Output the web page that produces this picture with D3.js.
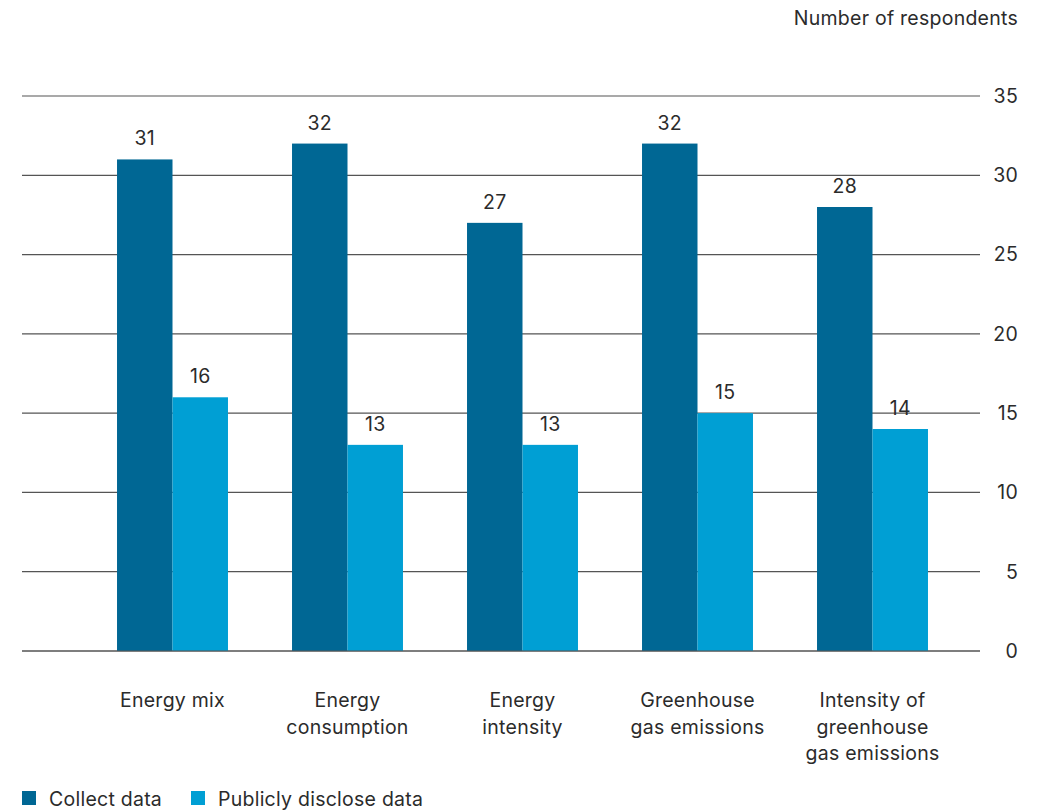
<!DOCTYPE html>
<html><head><meta charset="utf-8">
<script src="https://cdn.jsdelivr.net/npm/d3@7"></script>
<style>body{margin:0;background:#fff;} text{font-family:Inter, "Noto Sans", sans-serif;letter-spacing:0.25px;}</style>
</head><body>
<svg id="c" width="1051" height="811"></svg>
<script>
const categories = [["Energy mix"],["Energy","consumption"],["Energy","intensity"],["Greenhouse","gas emissions"],["Intensity of","greenhouse","gas emissions"]];
const seriesNames = ["Collect data","Publicly disclose data"];
const collectData = [31,32,27,32,28];
const discloseData = [16,13,13,15,14];
const yTicks = [0,5,10,15,20,25,30,35];
const colors = ["#006794","#009fd4"];
const textColor = "#2b2b2b";
const fs = 19.5;

const svg = d3.select("#c");
const x = d3.scaleBand().domain(d3.range(categories.length)).range([85,960]).paddingInner(0.366).paddingOuter(0.183);
const xs = d3.scaleBand().domain([0,1]).range([0,x.bandwidth()]);
const y = d3.scaleLinear().domain([0,35]).range([651,96]);

svg.append("g").selectAll("line").data(yTicks).join("line")
  .attr("x1",22).attr("x2",980).attr("y1",d=>y(d)).attr("y2",d=>y(d))
  .attr("stroke","#555").attr("stroke-width",1.2);
svg.append("g").selectAll("text").data(yTicks).join("text")
  .attr("x",1018).attr("y",d=>y(d)).attr("dy","0.35em").attr("text-anchor","end")
  .attr("font-size",fs).attr("fill",textColor).text(d=>d);
svg.append("text").attr("x",1018).attr("y",25).attr("text-anchor","end")
  .attr("font-size",fs).attr("fill",textColor).text("Number of respondents");

const series = [collectData, discloseData];
series.forEach((vals,si)=>{
  const g = svg.append("g");
  g.selectAll("rect").data(vals).join("rect")
    .attr("x",(d,i)=>x(i)+xs(si)).attr("width",xs.bandwidth())
    .attr("y",d=>y(d)).attr("height",d=>y(0)-y(d)).attr("fill",colors[si]);
  g.selectAll("text").data(vals).join("text")
    .attr("x",(d,i)=>x(i)+xs(si)+xs.bandwidth()/2).attr("y",d=>y(d)-14)
    .attr("text-anchor","middle").attr("font-size",fs).attr("fill",textColor).text(d=>d);
});
svg.append("line").attr("x1",22).attr("x2",980).attr("y1",y(0)).attr("y2",y(0)).attr("stroke","#555").attr("stroke-width",1.2);

const cl = svg.append("g").selectAll("text").data(categories).join("text")
  .attr("text-anchor","middle").attr("font-size",fs).attr("fill",textColor)
  .attr("x",(d,i)=>x(i)+x.bandwidth()/2).attr("y",707);
cl.selectAll("tspan").data(d=>d).join("tspan")
  .attr("x",function(){return this.parentNode.getAttribute("x");})
  .attr("dy",(d,i)=>i===0?0:26.5).text(d=>d);

const legX = [22,191];
const lg = svg.append("g").selectAll("g").data(seriesNames).join("g")
  .attr("transform",(d,i)=>`translate(${legX[i]},0)`);
lg.append("rect").attr("x",0).attr("y",791).attr("width",14).attr("height",14).attr("fill",(d,i)=>colors[i]);
lg.append("text").attr("x",27).attr("y",806).attr("font-size",fs).attr("fill",textColor).text(d=>d);
</script>
</body></html>
